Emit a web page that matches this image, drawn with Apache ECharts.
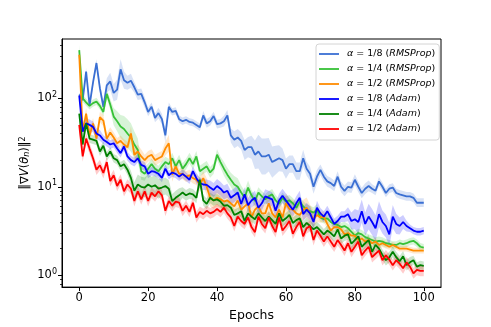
<!DOCTYPE html>
<html>
<head>
    <meta charset="utf-8">
    <title>grad norm vs epochs</title>
    <script src="https://cdn.jsdelivr.net/npm/echarts@6/dist/echarts.min.js"></script>
    <style>
        html, body { margin: 0; padding: 0; background: #fff; }
        #main { width: 491px; height: 327px; }
    </style>
</head>
<body>
<div id="main"></div>
<script type="text/javascript">
    // epochs 0..100
    var epochs = [];
    for (var k = 0; k <= 100; k++) epochs.push(k);

    var xTicks = [0, 20, 40, 60, 80, 100];
    var yTicks = [1, 10, 100];
    var yMinor = [0.8, 0.9, 2, 3, 4, 5, 6, 7, 8, 9, 20, 30, 40, 50, 60, 70, 80, 90, 200, 300, 400];

    var names = ['a8r', 'a4r', 'a2r', 'a8a', 'a4a', 'a2a'];
    var labels = [
        '{i|α} = 1/8 ({i|RMSProp})',
        '{i|α} = 1/4 ({i|RMSProp})',
        '{i|α} = 1/2 ({i|RMSProp})',
        '{i|α} = 1/8 ({i|Adam})',
        '{i|α} = 1/4 ({i|Adam})',
        '{i|α} = 1/2 ({i|Adam})'
    ];
    var colors = ['#3a6fd3', '#36c136', '#ff8c00', '#0000ff', '#008000', '#ff0000'];

    // mean curves
    var rms8 = [
        110, 95, 200, 83, 150, 250, 130, 80, 140, 155,
        115, 125, 212, 160, 150, 158, 133, 110, 112, 90,
        70, 80, 60, 68, 58, 38, 80, 70, 72, 58,
        55, 57, 54, 53, 50, 47, 64, 52, 55, 63,
        51, 52, 55, 64, 38, 34, 36, 33, 26, 28,
        28, 23, 25, 22, 22, 23, 19, 20, 21, 20,
        16, 18, 18, 15, 15, 21, 16, 14, 10, 13,
        15.5, 13, 11.5, 11, 10.2, 13, 10, 9, 10, 9.8,
        12, 10, 8.5, 9.5, 10.2, 9.5, 9, 11.5, 10, 8.5,
        9.5, 9.8, 8.5, 8.2, 8, 7.8, 7.8, 7.5, 6.6, 6.6,
        6.6];
    var rms4 = [
        350, 100, 90, 82, 88, 92, 82, 70, 112, 85,
        62, 55, 48, 45, 40, 36, 30, 26, 15, 14,
        16, 18, 16, 15, 17, 19, 18, 21, 17, 20,
        16, 18, 21, 18, 22, 15, 16, 17, 14.5, 16,
        23, 19, 16, 13.7, 12, 10.6, 10, 8.6, 7.5, 9.8,
        8, 6.9, 8.6, 7.8, 7.2, 7.8, 8.2, 7, 6.4, 7.5,
        6.8, 7, 6.5, 5.8, 6.8, 6, 5.5, 5.3, 5.1, 5.5,
        4.5, 4.3, 4.4, 4, 3.8, 3.7, 3.5, 3.6, 3.4, 3.1,
        2.8, 3, 2.9, 2.7, 2.6, 2.5, 2.4, 2.45, 2.4, 2.3,
        2.27, 2.2, 2.2, 2.3, 2.25, 2.3, 2.4, 2.45, 2.3, 2.1,
        2.05];
    var rms2 = [
        310, 42, 67, 38, 52, 35, 61, 56, 35, 41,
        36, 31, 33, 30, 28, 40, 23, 25, 22, 20,
        22, 23, 20, 21, 22, 27, 31, 13.7, 17, 14,
        14, 13, 13.5, 12.5, 12, 10.6, 12.5, 10, 7.5, 7,
        7.5, 7.2, 6.8, 7, 6.5, 6, 7, 5.5, 6, 6.5,
        4.5, 5.5, 6, 5, 5, 6.5, 5, 4.5, 5.5, 4.5,
        6.5, 5.6, 5.5, 5, 4.8, 5.5, 5.8, 5, 4.3, 4.8,
        4.5, 4.6, 3.8, 3.2, 3.5, 3.5, 3.3, 2.9, 3, 2.8,
        2.8, 2.5, 2.6, 2.4, 2.5, 2.3, 2.4, 2.2, 2.3, 2.2,
        2.1, 2.2, 2.1, 2, 2, 2, 1.95, 1.9, 1.9, 1.9,
        1.9];
    var adam8 = [
        107, 42, 52, 50, 47.5, 40, 38, 34, 32, 30,
        31, 27, 24, 28.5, 22, 20, 19, 21, 17.7, 17,
        14, 15, 14.7, 14, 12.6, 16, 13.5, 14.5, 14, 13,
        14, 13, 12, 15, 12.5, 11, 10.6, 10.5, 9.8, 9.2,
        10.2, 9.5, 8.6, 9, 7.5, 8, 8.6, 6.4, 8.2, 6.2,
        7, 7.5, 5.8, 6.5, 7.8, 7.5, 7.2, 5.35, 7, 7.9,
        7, 6.2, 5.5, 6.5, 7.5, 4.9, 5.5, 5, 4, 5.8,
        5, 4.6, 5.3, 4.5, 3.8, 4.1, 4.6, 4.6, 4.9, 4.1,
        4.3, 4, 5.3, 3.8, 4.6, 4, 3.4, 4.9, 4, 3.6,
        2.9, 4.6, 3.8, 3.6, 4, 3.6, 3.4, 3.2, 3.1, 3.1,
        3.2];
    var adam4 = [
        67, 30, 52, 35, 34, 33, 25, 29, 22, 25,
        21, 20, 17, 18, 15.6, 12.6, 9, 10.6, 10, 9.8,
        10.6, 10, 10.4, 9.5, 9.8, 10.2, 9.5, 6.9, 7.5, 8,
        8.6, 8, 8.4, 8.2, 7.5, 12, 7, 6.4, 7.5, 7,
        7.2, 6.8, 6.1, 6.2, 5.8, 4.8, 5, 5.3, 4.1, 5,
        4.6, 4.3, 5, 4.5, 4.1, 4.6, 4.2, 3.8, 5, 4.1,
        4.4, 4.8, 3.9, 4.2, 4.4, 3.5, 3.9, 3.6, 3.3, 3.5,
        3.2, 2.9, 3.2, 3, 2.75, 3.3, 2.6, 2.8, 2.9, 2.27,
        2.5, 2.75, 2.1, 2.3, 2.5, 1.84, 2.2, 2, 1.7, 1.48,
        1.6, 1.84, 1.6, 1.44, 1.64, 1.3, 1.4, 1.48, 1.25, 1.3,
        1.28];
    var adam2 = [
        50, 22, 35, 27, 21, 15.6, 17.5, 14.3, 19, 11.6,
        13.5, 10.2, 12, 8.9, 10.6, 9.5, 6.9, 8.9, 7.2, 8.9,
        6.9, 8.6, 7.8, 8.9, 8, 5.35, 6.9, 6.1, 6.8, 6.6,
        5.35, 6.1, 5.2, 6.6, 4.5, 5.2, 4.9, 5.35, 5, 5.2,
        5.6, 5.2, 5.8, 5, 4.5, 3.6, 4.6, 4.1, 3.8, 4.5,
        3.5, 3.07, 4.6, 3.8, 3.4, 4.5, 3.6, 3.07, 4.5, 3.2,
        3.6, 4.1, 2.94, 3.5, 4, 2.75, 3.4, 3.6, 2.5, 3.2,
        2.8, 2.4, 2.75, 2.4, 2.1, 2.5, 2.2, 1.9, 2.3, 1.84,
        2.1, 2.4, 1.68, 1.9, 2.1, 1.6, 1.75, 1.9, 1.48, 1.68,
        1.5, 1.3, 1.48, 1.35, 1.2, 1.4, 1.25, 1.05, 1.15, 1.12,
        1.12];

    // band half-widths, percent (upper = v*(1+s), lower = v/(1+s))
    var sRms8 = [
        5, 8, 10, 10, 10, 10, 12, 15, 20, 25,
        25, 30, 30, 25, 20, 20, 15, 15, 15, 15,
        12, 12, 12, 15, 15, 20, 12, 10, 10, 10,
        10, 10, 10, 10, 10, 10, 12, 12, 12, 12,
        12, 12, 15, 15, 20, 25, 25, 25, 30, 30,
        35, 45, 55, 60, 60, 55, 50, 45, 40, 35,
        30, 25, 25, 25, 25, 25, 20, 20, 20, 20,
        15, 15, 15, 15, 15, 15, 15, 15, 15, 15,
        15, 15, 15, 15, 15, 12, 12, 12, 12, 12,
        12, 12, 12, 12, 12, 12, 12, 12, 12, 12,
        12];
    var sRms4 = [
        15, 10, 10, 10, 10, 10, 10, 12, 12, 15,
        25, 30, 35, 40, 45, 45, 40, 35, 25, 20,
        15, 15, 15, 15, 15, 15, 15, 15, 15, 15,
        15, 15, 15, 15, 15, 15, 15, 15, 15, 15,
        15, 15, 20, 20, 20, 25, 25, 20, 20, 20,
        15, 15, 15, 15, 15, 15, 15, 15, 15, 15,
        15, 15, 15, 15, 15, 15, 15, 15, 15, 15,
        12, 12, 12, 12, 12, 12, 12, 12, 12, 12,
        12, 12, 12, 12, 12, 12, 12, 12, 12, 12,
        10, 10, 10, 10, 10, 10, 10, 10, 10, 10,
        10];
    var sRms2 = [
        12, 15, 15, 15, 15, 15, 15, 15, 15, 15,
        15, 15, 15, 15, 15, 20, 20, 20, 20, 15,
        15, 15, 15, 15, 15, 20, 25, 20, 15, 15,
        15, 15, 15, 15, 15, 20, 20, 25, 25, 25,
        25, 25, 25, 25, 25, 25, 25, 25, 25, 25,
        25, 25, 25, 25, 25, 30, 30, 30, 30, 30,
        30, 30, 30, 30, 30, 30, 30, 25, 25, 20,
        15, 15, 15, 12, 12, 12, 12, 12, 12, 12,
        10, 10, 10, 10, 10, 10, 10, 10, 10, 10,
        8, 8, 8, 8, 8, 8, 8, 8, 8, 8,
        8];
    var sAdam8 = [
        10, 15, 15, 15, 15, 15, 15, 12, 12, 12,
        12, 12, 12, 12, 12, 12, 12, 12, 12, 12,
        12, 12, 12, 12, 12, 12, 12, 12, 12, 12,
        12, 12, 12, 12, 15, 15, 15, 15, 20, 20,
        20, 20, 20, 20, 20, 20, 20, 20, 20, 20,
        20, 20, 20, 20, 20, 20, 20, 20, 20, 20,
        20, 20, 20, 20, 20, 20, 20, 20, 20, 20,
        15, 15, 15, 15, 15, 15, 15, 15, 20, 25,
        30, 35, 35, 35, 40, 40, 40, 40, 35, 35,
        35, 35, 30, 25, 20, 15, 10, 10, 10, 10,
        10];
    var sAdam4 = [
        10, 12, 12, 12, 12, 12, 12, 12, 12, 12,
        12, 12, 12, 12, 15, 20, 25, 30, 30, 30,
        30, 30, 30, 30, 25, 25, 25, 20, 20, 20,
        15, 15, 15, 15, 15, 15, 15, 15, 15, 15,
        15, 15, 15, 15, 15, 15, 15, 15, 15, 15,
        15, 15, 15, 15, 15, 15, 15, 15, 15, 15,
        15, 15, 15, 15, 15, 15, 15, 15, 15, 15,
        15, 15, 15, 15, 15, 15, 15, 15, 15, 15,
        15, 15, 15, 15, 15, 15, 15, 15, 15, 15,
        15, 15, 15, 15, 15, 15, 15, 12, 12, 12,
        12];
    var sAdam2 = [
        15, 15, 15, 15, 15, 15, 15, 15, 15, 15,
        15, 15, 15, 15, 15, 15, 15, 15, 15, 15,
        15, 15, 15, 15, 15, 15, 15, 15, 15, 15,
        15, 15, 15, 15, 15, 15, 15, 15, 15, 15,
        15, 15, 15, 15, 15, 15, 15, 15, 15, 15,
        15, 15, 15, 15, 15, 15, 15, 15, 15, 15,
        15, 15, 15, 15, 15, 15, 15, 15, 15, 15,
        15, 15, 15, 15, 15, 15, 15, 15, 15, 15,
        15, 15, 15, 15, 15, 15, 15, 15, 15, 15,
        15, 15, 15, 15, 15, 15, 15, 15, 15, 15,
        15];

    var means = [rms8, rms4, rms2, adam8, adam4, adam2];
    var spreads = [sRms8, sRms4, sRms2, sAdam8, sAdam4, sAdam2];

    var FONT = 'DejaVu Sans';

    function bandSeries(vals, spr, color) {
        return {
            type: 'custom',
            silent: true,
            clip: true,
            z: 1,
            data: [[0, 1]],
            encode: {x: 0, y: 1},
            renderItem: function (params, api) {
                var pts = [];
                for (var i = 0; i < vals.length; i++) {
                    pts.push(api.coord([epochs[i], vals[i] * (1 + spr[i] / 100)]));
                }
                for (var j = vals.length - 1; j >= 0; j--) {
                    pts.push(api.coord([epochs[j], vals[j] / (1 + spr[j] / 100)]));
                }
                return {
                    type: 'polygon',
                    shape: {points: pts},
                    style: {fill: color, opacity: 0.2}
                };
            }
        };
    }

    var series = [];
    for (var s = 0; s < means.length; s++) {
        series.push(bandSeries(means[s], spreads[s], colors[s]));
    }
    for (var t = 0; t < means.length; t++) {
        series.push({
            name: names[t],
            type: 'line',
            data: epochs.map(function (e, i) { return [e, means[t][i]]; }),
            symbol: 'none',
            showSymbol: false,
            z: 3,
            lineStyle: {width: 1.8, color: colors[t]},
            itemStyle: {color: colors[t]}
        });
    }

    var myChart = echarts.init(document.getElementById('main'));
    var option = {
        animation: false,
        backgroundColor: '#fff',
        color: colors,
        grid: {
            left: 62, right: 50, top: 39, bottom: 36,
            show: true, borderColor: '#000', borderWidth: 1
        },
        legend: {
            orient: 'vertical',
            left: 316, top: 44,
            data: names,
            icon: 'path://M0,0H20V1.8H0Z',
            itemWidth: 20, itemHeight: 12, itemGap: 5,
            padding: [5, 4, 6, 3],
            borderColor: '#d4d4d4', borderWidth: 1, borderRadius: 3,
            backgroundColor: 'rgba(255,255,255,0.8)',
            formatter: function (n) { return labels[names.indexOf(n)]; },
            textStyle: {
                fontFamily: FONT, fontSize: 9.5, color: '#000', padding: [0, 0, 0, 3],
                rich: {
                    i: {fontFamily: FONT, fontSize: 9.5, fontStyle: 'italic', color: '#000'}
                }
            }
        },
        xAxis: {
            type: 'value',
            min: -5, max: 105,
            splitLine: {show: false},
            axisLine: {show: true, onZero: false, lineStyle: {color: '#000', width: 1}},
            axisTick: {show: true, length: 4, customValues: xTicks, lineStyle: {color: '#000'}},
            axisLabel: {customValues: xTicks, fontFamily: FONT, fontSize: 11.5, color: '#000', margin: 5},
            name: 'Epochs',
            nameLocation: 'middle',
            nameGap: 19,
            nameTextStyle: {fontFamily: FONT, fontSize: 12.5, color: '#000'}
        },
        yAxis: [{
            type: 'log',
            logBase: 10,
            min: 0.735, max: 467,
            splitLine: {show: false},
            axisLine: {show: true, onZero: false, lineStyle: {color: '#000', width: 1}},
            axisTick: {show: true, length: 4, customValues: yTicks, lineStyle: {color: '#000'}},
            axisLabel: {
                customValues: yTicks,
                margin: 5,
                formatter: function (v) {
                    return '{b|10}{sup|' + Math.round(Math.log10(v)) + '}';
                },
                rich: {
                    b: {fontFamily: FONT, fontSize: 11.5, color: '#000', lineHeight: 15},
                    sup: {fontFamily: FONT, fontSize: 8, color: '#000', verticalAlign: 'top', lineHeight: 15}
                }
            },
            name: '‖∇{i|V}({i|θ}{sub|n})‖{sup|2}',
            nameLocation: 'middle',
            nameRotate: 90,
            nameGap: 31,
            nameMoveOverlap: false,
            nameTextStyle: {
                fontFamily: FONT, fontSize: 11.5, color: '#000',
                rich: {
                    i: {fontFamily: FONT, fontSize: 11.5, fontStyle: 'italic', color: '#000'},
                    sub: {fontFamily: FONT, fontSize: 8, fontStyle: 'italic', color: '#000', verticalAlign: 'bottom'},
                    sup: {fontFamily: FONT, fontSize: 8, color: '#000', verticalAlign: 'top'}
                }
            }
        }, {
            type: 'log',
            logBase: 10,
            min: 0.735, max: 467,
            position: 'left',
            splitLine: {show: false},
            axisLine: {show: false, onZero: false},
            axisTick: {show: true, length: 2, customValues: yMinor, lineStyle: {color: '#000', width: 0.8}},
            axisLabel: {show: false}
        }],
        series: series
    };
    myChart.setOption(option);
</script>
</body>
</html>
